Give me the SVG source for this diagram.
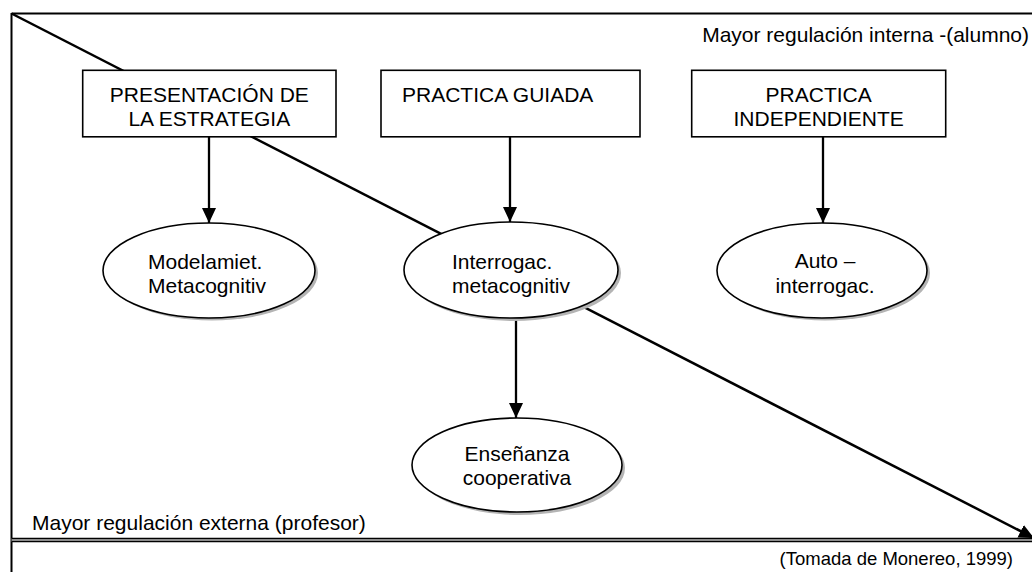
<svg xmlns="http://www.w3.org/2000/svg" width="1032" height="572" viewBox="0 0 1032 572">
  <style>
    text { font-family: "Liberation Sans", Arial, sans-serif; fill: #000; }
    .lbl { font-size: 21px; }
    .src { font-size: 18.5px; }
    .box { fill: #fff; stroke: #000; stroke-width: 1.6; }
    .oval { fill: #fff; stroke: #000; stroke-width: 1.6; }
    .shadow { fill: #b4b4b4; }
    .frame { stroke: #000; stroke-width: 2; fill: none; }
    .arrow { stroke: #000; stroke-width: 2.3; fill: none; marker-end: url(#head); }
    .diag { stroke: #000; stroke-width: 2.5; fill: none; marker-end: url(#head); }
  </style>
  <defs>
    <marker id="head" markerUnits="userSpaceOnUse" markerWidth="16" markerHeight="16" viewBox="0 0 16 16" refX="15" refY="8" orient="auto">
      <path d="M0,1 L15,8 L0,15 Z" fill="#000"/>
    </marker>
  </defs>

  <rect width="1032" height="572" fill="#fff"/>

  <!-- outer frame -->
  <g id="frame">
    <line class="frame" x1="11.5" y1="13.5" x2="1032" y2="13.5"/>
    <line class="frame" x1="11.5" y1="13" x2="11.5" y2="572"/>
    <rect x="11.5" y="538" width="1021" height="4" fill="#8c8c8c"/>
    <line x1="11.5" y1="538.3" x2="1032" y2="538.3" stroke="#000" stroke-width="1.2"/>
    <line x1="11.5" y1="541.7" x2="1032" y2="541.7" stroke="#000" stroke-width="1.2"/>
  </g>

  <!-- connectors -->
  <g id="connectors">
    <line class="diag" x1="11.5" y1="13.5" x2="1034" y2="538"/>
    <line class="arrow" x1="209" y1="137" x2="209" y2="223"/>
    <line class="arrow" x1="510" y1="137" x2="510" y2="222"/>
    <line class="arrow" x1="823" y1="137" x2="823" y2="223"/>
    <line class="arrow" x1="516" y1="318" x2="516" y2="418"/>
  </g>

  <!-- nodes -->
  <g id="presentacion">
    <rect class="box" x="82.7" y="70.3" width="253.3" height="66.5"/>
    <text class="lbl" x="209.3" y="101.5" text-anchor="middle">PRESENTACIÓN DE</text>
    <text class="lbl" x="209.3" y="126" text-anchor="middle">LA ESTRATEGIA</text>
  </g>
  <g id="practica-guiada">
    <rect class="box" x="381" y="70.3" width="259" height="66.5"/>
    <text class="lbl" x="402" y="101.5">PRACTICA GUIADA</text>
  </g>
  <g id="practica-independiente">
    <rect class="box" x="691.7" y="70.3" width="254" height="66.5"/>
    <text class="lbl" x="818.7" y="101.5" text-anchor="middle">PRACTICA</text>
    <text class="lbl" x="818.7" y="126" text-anchor="middle">INDEPENDIENTE</text>
  </g>

  <g id="modelamiento">
    <ellipse class="shadow" cx="212" cy="273" rx="106" ry="47.5"/>
    <ellipse class="oval" cx="209" cy="270.5" rx="106" ry="47.5"/>
    <text class="lbl" x="148" y="269">Modelamiet.</text>
    <text class="lbl" x="148" y="293">Metacognitiv</text>
  </g>
  <g id="interrogacion">
    <ellipse class="shadow" cx="514" cy="273" rx="107" ry="48"/>
    <ellipse class="oval" cx="511" cy="270" rx="107" ry="48"/>
    <text class="lbl" x="452" y="269">Interrogac.</text>
    <text class="lbl" x="452" y="293">metacognitiv</text>
  </g>
  <g id="auto-interrogacion">
    <ellipse class="shadow" cx="825" cy="273" rx="105" ry="47.5"/>
    <ellipse class="oval" cx="822" cy="270.5" rx="105" ry="47.5"/>
    <text class="lbl" x="825" y="268" text-anchor="middle">Auto –</text>
    <text class="lbl" x="825" y="293" text-anchor="middle">interrogac.</text>
  </g>
  <g id="ensenanza">
    <ellipse class="shadow" cx="520" cy="468" rx="105" ry="47"/>
    <ellipse class="oval" cx="517" cy="465" rx="105" ry="47"/>
    <text class="lbl" x="517" y="461" text-anchor="middle">Enseñanza</text>
    <text class="lbl" x="517" y="485" text-anchor="middle">cooperativa</text>
  </g>

  <!-- axis labels -->
  <g id="labels">
    <text class="lbl" x="1029" y="42" text-anchor="end">Mayor regulación interna -(alumno)</text>
    <text class="lbl" x="32" y="530">Mayor regulación externa (profesor)</text>
    <text class="src" x="1013" y="565" text-anchor="end">(Tomada de Monereo, 1999)</text>
  </g>
</svg>
